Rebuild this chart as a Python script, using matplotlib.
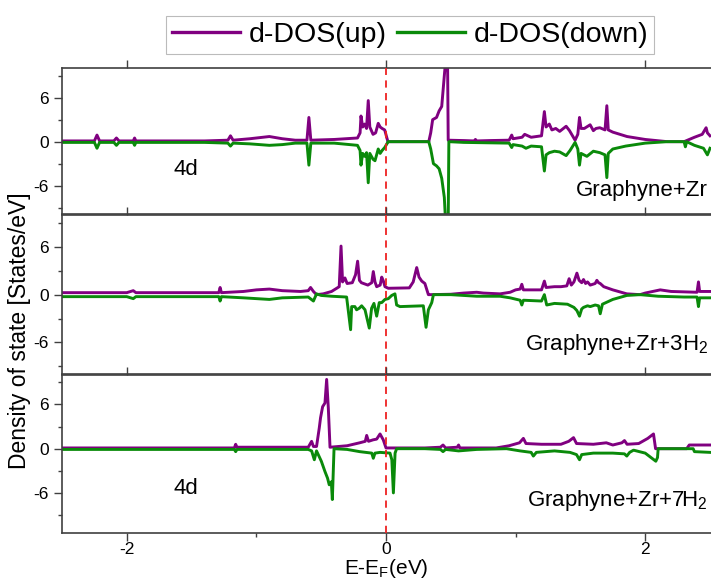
import matplotlib

matplotlib.use("Agg")  # no display
import matplotlib.pyplot as plt
from matplotlib.ticker import MultipleLocator
from matplotlib.lines import Line2D

plt.rcParams["font.family"] = ["Liberation Sans", "DejaVu Sans"]
plt.rcParams["axes.unicode_minus"] = False
plt.rcParams["mathtext.fontset"] = "custom"
plt.rcParams["mathtext.rm"] = "Liberation Sans"
plt.rcParams["mathtext.it"] = "Liberation Sans"

# ---- data (energy in eV, DOS in states/eV) ----
# Graphyne+Zr
e_up_zr = [-2.5, -2.25, -2.23, -2.21, -2.1, -2.08, -2.06, -1.95, -1.94, -1.93, -1.8, -1.4,
           -1.22, -1.2, -1.18, -1.05, -0.9, -0.8, -0.7, -0.61, -0.595, -0.58, -0.4, -0.22,
           -0.2, -0.193, -0.18, -0.165, -0.15, -0.137, -0.125, -0.1, -0.08, -0.06, -0.045,
           -0.03, -0.01, 0.01, 0.015, 0.33, 0.345, 0.36, 0.39, 0.41, 0.43, 0.45, 0.46, 0.475,
           0.48, 0.6, 0.68, 0.69, 0.7, 0.8, 0.95, 0.97, 0.98, 1.05, 1.07, 1.12, 1.2, 1.222,
           1.235, 1.26, 1.28, 1.31, 1.34, 1.39, 1.416, 1.459, 1.48, 1.493, 1.505, 1.53, 1.575,
           1.6, 1.62, 1.65, 1.69, 1.704, 1.715, 1.75, 1.86, 2.0, 2.17, 2.3, 2.38, 2.44, 2.47,
           2.48, 2.5]
dos_up_zr = [0.1, 0.1, 0.9, 0.1, 0.1, 0.5, 0.1, 0.1, 0.5, 0.1, 0.1, 0.1,
             0.2, 0.8, 0.2, 0.4, 0.7, 0.4, 0.2, 0.2, 3.3, 0.2, 0.3, 0.5,
             1.2, 3.5, 2.0, 2.4, 1.8, 5.6, 2.0, 1.0, 1.2, 2.5, 2.0,
             1.8, 1.6, 0.3, 0.0, 0.0, 1.2, 3.0, 3.3, 4.2, 4.8, 9.0, 11.0, 11.0,
             0.2, 0.15, 0.1, 0.3, 0.1, 0.15, 0.2, 0.9, 0.4, 0.6, 1.0, 0.6, 0.8, 4.1,
             2.0, 2.4, 1.6, 1.8, 1.4, 2.1, 1.5, 0.2, 1.0, 3.3, 1.8, 1.8, 2.3,
             1.5, 1.8, 1.9, 1.6, 4.9, 1.6, 1.3, 0.7, 0.3, 0.0, 0.0, 0.6, 1.0, 1.9,
             1.2, 0.8]
e_dn_zr = [-2.5, -2.25, -2.23, -2.21, -2.1, -2.08, -2.06, -1.95, -1.94, -1.93, -1.8, -1.4,
           -1.22, -1.2, -1.18, -1.05, -0.9, -0.8, -0.7, -0.61, -0.595, -0.58, -0.4, -0.22,
           -0.2, -0.193, -0.18, -0.165, -0.15, -0.137, -0.125, -0.1, -0.085, -0.06, -0.045,
           -0.03, -0.01, 0.01, 0.015, 0.33, 0.345, 0.366, 0.39, 0.41, 0.43, 0.45, 0.46, 0.48,
           0.485, 0.6, 0.95, 0.97, 0.98, 1.05, 1.08, 1.12, 1.2, 1.222, 1.235, 1.26, 1.3, 1.34,
           1.39, 1.42, 1.459, 1.48, 1.493, 1.505, 1.55, 1.6, 1.65, 1.69, 1.704, 1.715, 1.75,
           1.85, 2.0, 2.17, 2.3, 2.31, 2.32, 2.38, 2.45, 2.48, 2.5]
dos_dn_zr = [-0.1, -0.1, -0.9, -0.1, -0.1, -0.5, -0.1, -0.1, -0.5, -0.1, -0.1, -0.1,
             -0.2, -0.6, -0.2, -0.3, -0.5, -0.4, -0.2, -0.2, -3.2, -0.2, -0.2, -0.5,
             -1.2, -3.2, -1.6, -2.0, -1.5, -5.6, -1.6, -2.4, -2.6, -1.0, -1.6,
             -1.2, -0.8, -0.2, 0.0, 0.0, -1.0, -3.0, -3.3, -3.7, -5.0, -7.6, -11.0, -11.0,
             0.0, -0.1, -0.2, -0.8, -0.4, -0.6, -0.9, -0.6, -0.7, -4.0, -1.8, -1.5, -1.3, -1.4,
             -1.9, -1.2, -0.1, -1.0, -3.2, -1.6, -2.0, -1.3, -1.5, -1.8, -4.9, -1.6, -1.0,
             -0.6, -0.2, 0.0, 0.0, -0.7, 0.0, -0.5, -0.9, -1.8, -0.9]

# Graphyne+Zr+3H2
e_up_3h = [-2.5, -2.0, -1.95, -1.93, -1.29, -1.28, -1.27, -1.1, -1.0, -0.9, -0.8, -0.66,
           -0.6, -0.582, -0.56, -0.536, -0.484, -0.42, -0.361, -0.347, -0.335, -0.317, -0.3,
           -0.26, -0.235, -0.219, -0.205, -0.19, -0.14, -0.11, -0.098, -0.085, -0.072, -0.045,
           -0.033, -0.02, -0.008, 0.018, 0.18, 0.21, 0.237, 0.255, 0.276, 0.3, 0.327, 0.34,
           0.5, 0.6, 0.7, 0.75, 0.88, 0.958, 1.0, 1.035, 1.048, 1.06, 1.2, 1.222, 1.235, 1.3,
           1.35, 1.395, 1.413, 1.43, 1.45, 1.473, 1.49, 1.51, 1.524, 1.54, 1.555, 1.576, 1.614,
           1.627, 1.64, 1.653, 1.68, 1.75, 1.858, 1.96, 2.0, 2.116, 2.2, 2.4, 2.411, 2.42, 2.5]
dos_up_3h = [0.25, 0.25, 0.5, 0.25, 0.25, 0.9, 0.25, 0.4, 0.6, 0.7, 0.5, 0.4,
             0.5, 0.9, 0.4, 0.0, 0.1, 0.4, 1.0, 6.1, 1.6, 2.1, 1.4,
             1.5, 2.5, 4.2, 1.8, 1.5, 1.2, 1.5, 2.9, 1.6, 1.0, 1.2,
             2.2, 1.7, 1.0, 0.8, 0.85, 1.6, 3.4, 2.2, 1.7, 1.4, 0.0, 0.0,
             0.05, 0.2, 0.3, 0.2, 0.1, 0.3, 0.6, 0.7, 1.3, 0.6, 0.6, 1.7, 0.9, 1.0,
             1.0, 1.1, 2.0, 1.2, 1.6, 2.7, 1.8, 1.5, 1.9, 1.4, 1.6, 1.2, 1.4,
             1.8, 1.5, 1.4, 1.0, 0.6, 0.1, 0.0, 0.2, 0.6, 0.4, 0.3, 1.6, 0.4, 0.4]
e_dn_3h = [-2.5, -2.0, -1.95, -1.93, -1.29, -1.28, -1.27, -1.1, -1.0, -0.9, -0.8, -0.6,
           -0.56, -0.536, -0.5, -0.42, -0.304, -0.291, -0.273, -0.265, -0.24, -0.227, -0.206,
           -0.188, -0.162, -0.129, -0.111, -0.093, -0.072, -0.052, -0.033, -0.008, 0.018,
           0.044, 0.069, 0.082, 0.108, 0.288, 0.309, 0.327, 0.353, 0.366, 0.5, 0.6, 0.7, 0.88,
           0.958, 1.035, 1.048, 1.06, 1.2, 1.222, 1.24, 1.3, 1.4, 1.45, 1.473, 1.493, 1.51,
           1.524, 1.555, 1.576, 1.614, 1.64, 1.653, 1.67, 1.75, 1.858, 1.96, 2.1, 2.3, 2.4,
           2.411, 2.42, 2.5]
dos_dn_3h = [-0.25, -0.25, -0.5, -0.25, -0.25, -0.8, -0.25, -0.4, -0.5, -0.6, -0.4, -0.3,
             -0.8, 0.1, -0.1, -0.2, -0.3, -2.0, -4.4, -1.5, -1.5, -1.9, -1.7,
             -1.4, -1.9, -4.2, -1.7, -1.1, -2.7, -1.0, -1.0, -0.6, -0.5,
             -0.1, 0.1, -1.3, -1.5, -1.4, -4.1, -1.9, -1.0, 0.0, 0.0, -0.1, -0.2, -0.2,
             -0.4, -0.7, -1.3, -0.7, -0.8, 0.0, -1.3, -1.1, -1.2, -1.6, -2.0, -2.7, -1.8,
             -1.6, -1.4, -1.5, -1.3, -1.4, -2.4, -1.2, -0.6, -0.1, 0.0, -0.2, -0.3, -0.3,
             -1.5, -0.4, -0.4]

# Graphyne+Zr+7H2
e_up_7h = [-2.5, -1.5, -1.17, -1.16, -1.15, -0.6, -0.574, -0.56, -0.536, -0.515, -0.505,
           -0.489, -0.471, -0.458, -0.445, -0.432, -0.3, -0.203, -0.16, -0.149, -0.135, -0.1,
           -0.072, -0.046, -0.021, 0.0, 0.3, 0.42, 0.44, 0.46, 0.55, 0.56, 0.57, 0.7, 0.85,
           0.95, 1.03, 1.06, 1.08, 1.2, 1.35, 1.41, 1.447, 1.47, 1.6, 1.7, 1.75, 1.82, 1.84,
           1.86, 1.95, 2.02, 2.064, 2.08, 2.32, 2.34, 2.5]
dos_up_7h = [0.1, 0.1, 0.1, 0.6, 0.2, 0.2, 1.0, 0.3, 0.3, 2.8, 4.2,
             5.7, 6.2, 9.4, 5.5, 0.2, 0.4, 0.8, 1.0, 1.8, 1.0, 1.2,
             1.3, 2.0, 1.2, 0.1, 0.1, 0.2, 0.5, 0.1, 0.2, 0.5, 0.1, 0.1, 0.1,
             0.4, 0.8, 1.4, 0.7, 0.6, 0.6, 1.0, 1.5, 0.7, 0.6, 0.8, 0.5, 0.8, 1.1,
             0.6, 0.7, 1.4, 2.0, 0.0, 0.0, 0.5, 0.5]
e_dn_7h = [-2.5, -1.5, -1.17, -1.16, -1.15, -0.6, -0.574, -0.553, -0.536, -0.499, -0.471,
           -0.451, -0.438, -0.422, -0.414, -0.401, -0.3, -0.203, -0.11, -0.098, -0.085, -0.046,
           0.031, 0.045, 0.057, 0.07, 0.082, 0.3, 0.42, 0.44, 0.46, 0.56, 0.7, 0.93, 1.035,
           1.12, 1.137, 1.16, 1.3, 1.42, 1.47, 1.493, 1.51, 1.6, 1.75, 1.84, 1.858, 1.88, 1.91,
           2.0, 2.082, 2.095, 2.1, 2.37, 2.38, 2.5]
dos_dn_7h = [-0.1, -0.1, -0.1, -0.4, -0.1, -0.1, -0.3, -1.5, -0.3, -1.7, -3.1,
             -4.0, -4.9, -4.5, -6.9, 0.0, -0.1, -0.4, -0.6, -1.3, -0.6, -0.5,
             -0.6, -1.5, -6.0, -0.6, 0.0, 0.0, -0.1, -0.4, -0.1, -0.3, -0.1, 0.0, -0.3,
             -0.5, -1.0, -0.5, -0.3, -0.5, -0.8, -1.5, -0.8, -0.6, -0.6, -0.7, -1.0, -0.5, -0.2,
             -0.6, -1.7, -1.2, 0.0, 0.0, -0.4, -0.5]

panels = [
    ("Graphyne+Zr", e_up_zr, dos_up_zr, e_dn_zr, dos_dn_zr),
    ("Graphyne+Zr+3H$_2$", e_up_3h, dos_up_3h, e_dn_3h, dos_dn_3h),
    ("Graphyne+Zr+7H$_2$", e_up_7h, dos_up_7h, e_dn_7h, dos_dn_7h),
]
ylims = [(-9.9, 10), (-10, 10), (-11.4, 10)]
show_4d = [True, False, True]

UP = "#800080"
DN = "#0a8a0a"
SPINE = "#404040"

W, H = 711, 581
fig = plt.figure(figsize=(W / 100, H / 100), dpi=100)

# axes boxes in pixels (left, top, right, bottom)
boxes = [(62, 68.3, 712, 214.3), (62, 215, 712, 374.3), (62, 375, 712, 532.7)]

for i, (name, eu, du, ed, dd) in enumerate(panels):
    l, t, r, b = boxes[i]
    ax = fig.add_axes([l / W, 1 - b / H, (r - l) / W, (b - t) / H])
    ax.plot(eu, du, color=UP, lw=2.1, solid_joinstyle="round")
    ax.plot(ed, dd, color=DN, lw=2.1, solid_joinstyle="round")
    ax.axvline(0, color="#ee2222", lw=1.3, ls=(0, (4, 3)), zorder=5)

    ax.set_xlim(-2.5, 2.5 + 2 * 5 / 648)
    ax.set_ylim(*ylims[i])
    ax.yaxis.set_major_locator(MultipleLocator(6))
    ax.yaxis.set_minor_locator(MultipleLocator(3))
    ax.xaxis.set_major_locator(MultipleLocator(2))
    ax.xaxis.set_minor_locator(MultipleLocator(1))
    ax.tick_params(axis="y", which="both", direction="out", colors=SPINE,
                   labelcolor="black", labelsize=12.5, width=1.0, pad=3.5)
    ax.tick_params(axis="y", which="major", length=6)
    ax.tick_params(axis="y", which="minor", length=3)
    ax.tick_params(axis="x", which="major", direction="out", top=True, length=6,
                   width=1.0, colors=SPINE, labelcolor="black", labelsize=12.5, pad=0.5)
    ax.tick_params(axis="x", which="minor", direction="out", length=3, width=1.0,
                   colors=SPINE, bottom=(i == 2), top=False)
    if i < 2:
        ax.tick_params(axis="x", labelbottom=False)
    ax.spines["right"].set_visible(False)
    for s in ("left", "top", "bottom"):
        ax.spines[s].set_color(SPINE)
        ax.spines[s].set_linewidth(1.2)

    ax.text(0.994, [0.166, 0.184, 0.207][i], name, transform=ax.transAxes,
            ha="right", va="center", fontsize=16)
    if show_4d[i]:
        ax.text(0.19, [0.31, 0, 0.283][i], "4d", transform=ax.transAxes,
                ha="center", va="center", fontsize=16)

fig.text(20 / W, 1 - 331 / H, "Density of state [States/eV]", rotation=90,
         ha="center", va="center", fontsize=16.5)
fig.text(386 / W, 1 - 580.5 / H, "E-E$_F$(eV)", ha="center", va="bottom", fontsize=15)

handles = [Line2D([], [], color=UP, lw=2.4), Line2D([], [], color=DN, lw=2.4)]
leg = fig.legend(handles, ["d-DOS(up)", "d-DOS(down)"], loc="center",
                 bbox_to_anchor=(410 / W, 1 - 35 / H), ncol=2, fontsize=20.5,
                 handlelength=2.4, handletextpad=0.3, columnspacing=0.35,
                 frameon=True, fancybox=False, borderpad=0.2)
leg.get_frame().set_edgecolor("#aaaaaa")
leg.get_frame().set_linewidth(0.8)

fig.savefig("out.png", dpi=100)
